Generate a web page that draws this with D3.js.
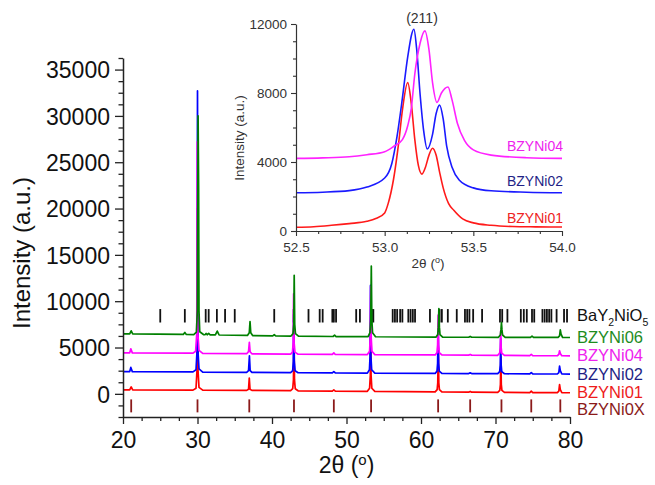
<!DOCTYPE html>
<html>
<head>
<meta charset="utf-8">
<script src="https://cdnjs.cloudflare.com/ajax/libs/d3/7.8.5/d3.min.js"></script>
<style>
  html, body { margin: 0; padding: 0; background: #fff; }
  svg { display: block; font-family: "Liberation Sans", Arial, sans-serif; }
</style>
</head>
<body>
<svg id="chart" width="655" height="485"></svg>
<script>
// ---- Full-range XRD patterns, [2θ, intensity] ----
const bzyni01 = [
  [20, 430], [20.9, 430], [21.1, 750], [21.3, 430],
  [29.4, 400], [29.8, 600], [29.93, 2500], [30.0, 20000], [30.07, 2500], [30.2, 700], [30.7, 400],
  [36.6, 370], [36.85, 500], [36.95, 1700], [37.05, 500], [37.3, 370],
  [42.5, 340], [42.78, 550], [42.88, 1500], [42.95, 6500], [43.02, 1500], [43.12, 550], [43.5, 330],
  [48.1, 290], [48.3, 420], [48.5, 290],
  [52.8, 270], [53.1, 600], [53.2, 2000], [53.25, 8000], [53.3, 2000], [53.4, 600], [53.8, 260],
  [61.9, 210], [62.17, 450], [62.25, 1200], [62.32, 5000], [62.39, 1200], [62.47, 450], [62.8, 200],
  [66.4, 180], [66.6, 260], [66.8, 180],
  [70.3, 160], [70.58, 380], [70.66, 1000], [70.72, 4000], [70.78, 1000], [70.86, 380], [71.2, 150],
  [74.6, 140], [74.8, 280], [75.0, 140],
  [78.3, 130], [78.5, 300], [78.6, 1000], [78.7, 450], [78.9, 130],
  [80, 120]
];
const bzyni02 = [
  [20, 2400], [20.9, 2400], [21.05, 2850], [21.25, 2400],
  [29.4, 2370], [29.8, 2600], [29.93, 4500], [30.0, 32700], [30.07, 4500], [30.2, 2700], [30.7, 2350],
  [36.6, 2320], [36.85, 2500], [36.97, 4100], [37.07, 2500], [37.3, 2310],
  [42.5, 2290], [42.78, 2500], [42.86, 3500], [42.92, 8600], [42.99, 3500], [43.1, 2500], [43.5, 2280],
  [48.1, 2260], [48.3, 2400], [48.5, 2250],
  [52.8, 2240], [53.08, 2600], [53.16, 4000], [53.22, 11700], [53.28, 4000], [53.38, 2600], [53.8, 2230],
  [61.9, 2200], [62.15, 2450], [62.23, 3300], [62.3, 7000], [62.37, 3300], [62.45, 2450], [62.8, 2200],
  [66.4, 2190], [66.6, 2260], [66.8, 2190],
  [70.3, 2180], [70.56, 2400], [70.64, 3100], [70.7, 6000], [70.76, 3100], [70.84, 2400], [71.2, 2170],
  [74.6, 2150], [74.8, 2300], [75.0, 2150],
  [78.3, 2140], [78.5, 2300], [78.6, 3000], [78.7, 2500], [78.9, 2140],
  [80, 2130]
];
const bzyni04 = [
  [20, 4420], [20.9, 4420], [21.05, 4860], [21.25, 4420],
  [29.4, 4390], [29.75, 4600], [29.9, 6500], [29.97, 27200], [30.05, 6500], [30.2, 4700], [30.7, 4370],
  [36.6, 4330], [36.85, 4550], [36.96, 5550], [37.06, 4550], [37.3, 4320],
  [42.5, 4290], [42.75, 4500], [42.84, 5500], [42.9, 10800], [42.97, 5500], [43.08, 4500], [43.5, 4280],
  [48.1, 4260], [48.3, 4420], [48.5, 4250],
  [52.8, 4240], [53.1, 4600], [53.18, 6000], [53.25, 11600], [53.32, 6000], [53.42, 4600], [53.8, 4230],
  [61.9, 4200], [62.15, 4450], [62.23, 5300], [62.3, 8500], [62.37, 5300], [62.45, 4450], [62.8, 4200],
  [66.4, 4180], [66.6, 4250], [66.8, 4180],
  [70.3, 4160], [70.56, 4400], [70.64, 5000], [70.7, 6800], [70.76, 5000], [70.84, 4400], [71.2, 4150],
  [74.6, 4130], [74.8, 4260], [75.0, 4130],
  [78.3, 4110], [78.5, 4250], [78.6, 4650], [78.7, 4350], [78.9, 4110],
  [80, 4100]
];
const bzyni06 = [
  [20, 6480], [20.9, 6480], [21.1, 6800], [21.3, 6470],
  [28.1, 6420], [28.3, 6620], [28.5, 6410],
  [29.5, 6400], [29.85, 6650], [29.98, 9000], [30.08, 30000], [30.15, 22300], [30.2, 9000], [30.3, 6700], [30.8, 6400],
  [31.0, 6380], [31.15, 6520], [31.3, 6380], [31.5, 6520], [31.7, 6370],
  [32.4, 6360], [32.65, 6780], [32.9, 6350],
  [36.7, 6300], [36.95, 6600], [37.05, 7800], [37.15, 6600], [37.4, 6290],
  [40.1, 6260], [40.3, 6380], [40.5, 6250],
  [42.55, 6240], [42.82, 6500], [42.92, 7500], [42.98, 12800], [43.05, 7500], [43.15, 6500], [43.55, 6230],
  [48.2, 6190], [48.4, 6330], [48.6, 6185],
  [52.9, 6170], [53.15, 6600], [53.25, 8000], [53.33, 13800], [53.4, 8000], [53.5, 6600], [53.9, 6160],
  [62.0, 6120], [62.25, 6400], [62.33, 7200], [62.4, 9200], [62.47, 7200], [62.55, 6400], [62.9, 6120],
  [66.4, 6110], [66.6, 6200], [66.8, 6110],
  [70.4, 6100], [70.65, 6350], [70.73, 6900], [70.8, 7700], [70.87, 6900], [70.95, 6350], [71.3, 6100],
  [74.7, 6090], [74.9, 6230], [75.1, 6090],
  [78.4, 6090], [78.6, 6250], [78.7, 6900], [78.8, 6450], [79.0, 6085],
  [80, 6080]
];

// ---- Reference reflection positions (2θ) ----
const refBaY2NiO5 = [25.0, 28.3, 31.1, 31.5, 32.6, 33.7, 35.0, 40.3, 42.9, 44.9, 46.4, 46.8,
  48.1, 48.3, 48.6, 51.3, 51.8, 53.4, 53.6, 56.2, 56.5, 56.8, 57.2, 57.5, 58.3, 58.6, 58.9, 59.2,
  61.2, 62.5, 62.8, 63.6, 64.8, 65.9, 66.2, 66.5, 67.0, 68.2, 70.6, 70.9, 71.6, 73.4, 73.8, 74.2,
  74.9, 75.2, 76.3, 76.6, 76.9, 77.2, 77.5, 78.2, 79.2, 79.6];
const refBZYNi0X = [21.1, 30.0, 36.95, 42.95, 48.3, 53.3, 62.3, 66.6, 70.8, 74.8, 78.7];
const refBarSpan = { bay: [7700, 9150], bzy: [-600, -2000] };

// ---- (211) reflection detail, [2θ, intensity] ----
const zoom01 = [
  [52.5, 220], [52.6, 250], [52.7, 330], [52.8, 430], [52.9, 560], [52.95, 720], [53.0, 1050],
  [53.02, 1600], [53.05, 3000], [53.08, 5200], [53.1, 7000], [53.13, 8600], [53.15, 7400],
  [53.17, 5300], [53.19, 3800], [53.21, 3300], [53.23, 3700], [53.25, 4400], [53.27, 4800],
  [53.29, 4400], [53.31, 3400], [53.33, 2500], [53.36, 1600], [53.39, 1200], [53.44, 700],
  [53.5, 470], [53.6, 330], [53.72, 260], [53.85, 240], [54.0, 230]
];
const zoom02 = [
  [52.5, 2220], [52.65, 2250], [52.8, 2340], [52.9, 2550], [53.0, 3070], [53.04, 3900],
  [53.07, 5500], [53.1, 7700], [53.13, 10100], [53.165, 11700], [53.18, 10600], [53.2, 7900],
  [53.22, 5800], [53.24, 4750], [53.27, 5600], [53.29, 6800], [53.31, 7300], [53.33, 6500],
  [53.35, 4900], [53.38, 3700], [53.42, 2960], [53.5, 2500], [53.6, 2330], [53.8, 2250], [54.0, 2220]
];
const zoom04 = [
  [52.5, 4210], [52.65, 4240], [52.8, 4300], [52.9, 4420], [53.0, 4600], [53.05, 4900],
  [53.1, 5300], [53.13, 6100], [53.15, 7100], [53.17, 9100], [53.2, 10900], [53.227, 11600],
  [53.25, 10500], [53.27, 8600], [53.295, 7450], [53.32, 8000], [53.357, 8350], [53.38, 7600],
  [53.41, 6250], [53.45, 5250], [53.5, 4700], [53.6, 4400], [53.8, 4250], [54.0, 4210]
];

// ---- Axis ticks ----
const mainXTicks = [20, 30, 40, 50, 60, 70, 80];
const mainYTicks = [0, 5000, 10000, 15000, 20000, 25000, 30000, 35000];
const insetXTicks = [52.5, 53.0, 53.5, 54.0];
const insetYTicks = [0, 4000, 8000, 12000];

// ---- Series styling ----
const seriesMain = [
  { name: "BZYNi01", data: bzyni01, color: "#ff0000", label: "#ee1c1c" },
  { name: "BZYNi02", data: bzyni02, color: "#0000ff", label: "#1f1f86" },
  { name: "BZYNi04", data: bzyni04, color: "#ff00ff", label: "#ee22ee" },
  { name: "BZYNi06", data: bzyni06, color: "#008000", label: "#1e8c1e" }
];
const seriesInset = [
  { name: "BZYNi01", data: zoom01, color: "#ff1a1a", label: "#ee2222", y: 222.7 },
  { name: "BZYNi02", data: zoom02, color: "#1a1aff", label: "#1f1f86", y: 186 },
  { name: "BZYNi04", data: zoom04, color: "#ff22ff", label: "#ee22ee", y: 150.7 }
];

const svg = d3.select("#chart");
const AX = "#222";

// ===== Main panel =====
const M = { left: 123, right: 570, top: 58, bottom: 417 };
const x = d3.scaleLinear().domain([20, 80]).range([M.left, M.right]);
const y = d3.scaleLinear().domain([-2500, 36250]).range([M.bottom, M.top]);

const line = d3.line().x(d => x(d[0])).y(d => y(d[1]));

// reference reflection bars
svg.append("g").selectAll("line").data(refBaY2NiO5).join("line")
  .attr("x1", d => x(d)).attr("x2", d => x(d))
  .attr("y1", y(refBarSpan.bay[0])).attr("y2", y(refBarSpan.bay[1]))
  .attr("stroke", "#111").attr("stroke-width", 1.8);
svg.append("g").selectAll("line").data(refBZYNi0X).join("line")
  .attr("x1", d => x(d)).attr("x2", d => x(d))
  .attr("y1", y(refBarSpan.bzy[0])).attr("y2", y(refBarSpan.bzy[1]))
  .attr("stroke", "#8b1a1a").attr("stroke-width", 1.8);

// patterns
svg.append("g").selectAll("path").data(seriesMain).join("path")
  .attr("d", d => line(d.data))
  .attr("fill", "none").attr("stroke", d => d.color)
  .attr("stroke-width", 1.7).attr("stroke-linejoin", "round");

// axes
const minorX = d3.range(20, 80.01, 2.5).filter(v => Math.abs(v % 10) > 1e-6);
const minorY = d3.range(-2500, 36250.1, 1250).filter(v => Math.abs(v % 5000) > 1e-6);

const gx = svg.append("g").attr("transform", `translate(0,${M.bottom})`);
gx.call(d3.axisBottom(x).tickValues(mainXTicks).tickSize(7).tickSizeOuter(0).tickFormat(d3.format("d")));
gx.append("g").call(d3.axisBottom(x).tickValues(minorX).tickSize(4).tickFormat(""));
const gy = svg.append("g").attr("transform", `translate(${M.left},0)`);
gy.call(d3.axisLeft(y).tickValues(mainYTicks).tickSize(8).tickSizeOuter(0).tickFormat(d3.format("d")));
gy.append("g").call(d3.axisLeft(y).tickValues(minorY).tickSize(4.5).tickFormat(""));

[gx, gy].forEach(g => {
  g.selectAll(".domain").attr("stroke", AX).attr("stroke-width", 1.5);
  g.selectAll(".tick line").attr("stroke", AX).attr("stroke-width", 1.3);
  g.selectAll("g > g > .domain").remove();
});
gx.selectAll(".tick text").attr("font-size", 23).attr("fill", "#111")
  .attr("font-family", "Liberation Sans, Arial, sans-serif").attr("dy", null).attr("y", 31);
gy.selectAll(".tick text").attr("font-size", 23).attr("fill", "#111")
  .attr("font-family", "Liberation Sans, Arial, sans-serif").attr("dy", "0.36em").attr("x", -13);

// axis titles
const xt = svg.append("text").attr("x", (M.left + M.right) / 2).attr("y", 473)
  .attr("text-anchor", "middle").attr("font-size", 23).attr("fill", "#111");
xt.append("tspan").text("2θ (");
xt.append("tspan").attr("font-size", 15).attr("dy", -8).text("o");
xt.append("tspan").attr("dy", 8).text(")");

svg.append("text").attr("transform", "translate(30,253) rotate(-90)")
  .attr("text-anchor", "middle").attr("font-size", 24).attr("fill", "#111")
  .text("Intensity (a.u.)");

// series labels
const lx = 577;
const bay = svg.append("text").attr("x", lx).attr("y", 321).attr("font-size", 16.5).attr("fill", "#111");
bay.append("tspan").text("BaY");
bay.append("tspan").attr("font-size", 10.5).attr("dy", 5).text("2");
bay.append("tspan").attr("dy", -5).text("NiO");
bay.append("tspan").attr("font-size", 10.5).attr("dy", 5).text("5");
const mainLabels = [
  { t: "BZYNi06", y: 343, c: seriesMain[3].label },
  { t: "BZYNi04", y: 361, c: seriesMain[2].label },
  { t: "BZYNi02", y: 379.5, c: seriesMain[1].label },
  { t: "BZYNi01", y: 398, c: seriesMain[0].label },
  { t: "BZYNi0X", y: 415, c: "#8b1a1a" }
];
svg.append("g").selectAll("text").data(mainLabels).join("text")
  .attr("x", lx).attr("y", d => d.y).attr("font-size", 16.5).attr("fill", d => d.c).text(d => d.t);

// ===== Inset panel: (211) reflection =====
const I = { left: 296, right: 562, top: 24, bottom: 231 };
const xi = d3.scaleLinear().domain([52.5, 54.0]).range([I.left, I.right]);
const yi = d3.scaleLinear().domain([0, 12000]).range([I.bottom, I.top]);
const linei = d3.line().x(d => xi(d[0])).y(d => yi(d[1])).curve(d3.curveMonotoneX);

svg.append("g").selectAll("path").data(seriesInset).join("path")
  .attr("d", d => linei(d.data))
  .attr("fill", "none").attr("stroke", d => d.color)
  .attr("stroke-width", 1.6).attr("stroke-linejoin", "round");

const minorXi = d3.range(52.5, 54.001, 0.125).filter(v => !insetXTicks.some(t => Math.abs(t - v) < 1e-6));
const minorYi = d3.range(0, 12000.1, 1000).filter(v => v % 4000 !== 0);

const gxi = svg.append("g").attr("transform", `translate(0,${I.bottom})`);
gxi.call(d3.axisBottom(xi).tickValues(insetXTicks).tickSize(5).tickSizeOuter(0).tickFormat(d3.format(".1f")));
gxi.append("g").call(d3.axisBottom(xi).tickValues(minorXi).tickSize(3).tickFormat(""));
const gyi = svg.append("g").attr("transform", `translate(${I.left},0)`);
gyi.call(d3.axisLeft(yi).tickValues(insetYTicks).tickSize(5).tickSizeOuter(0).tickFormat(d3.format("d")));
gyi.append("g").call(d3.axisLeft(yi).tickValues(minorYi).tickSize(3).tickFormat(""));

[gxi, gyi].forEach(g => {
  g.selectAll(".domain").attr("stroke", "#333").attr("stroke-width", 1.2);
  g.selectAll(".tick line").attr("stroke", "#333").attr("stroke-width", 1.1);
  g.selectAll("g > g > .domain").remove();
});
gxi.selectAll(".tick text").attr("font-size", 13.5).attr("fill", "#333")
  .attr("font-family", "Liberation Sans, Arial, sans-serif").attr("dy", null).attr("y", 21);
gyi.selectAll(".tick text").attr("font-size", 13.5).attr("fill", "#333")
  .attr("font-family", "Liberation Sans, Arial, sans-serif").attr("dy", "0.36em").attr("x", -9);

const xti = svg.append("text").attr("x", 428).attr("y", 268)
  .attr("text-anchor", "middle").attr("font-size", 13.5).attr("fill", "#333");
xti.append("tspan").text("2θ (");
xti.append("tspan").attr("font-size", 9).attr("dy", -5).text("o");
xti.append("tspan").attr("dy", 5).text(")");

svg.append("text").attr("transform", "translate(244,138) rotate(-90)")
  .attr("text-anchor", "middle").attr("font-size", 13.5).attr("fill", "#333")
  .text("Intensity (a.u.)");

svg.append("text").attr("x", 422).attr("y", 23).attr("text-anchor", "middle")
  .attr("font-size", 14).attr("fill", "#333").text("(211)");

svg.append("g").selectAll("text").data(seriesInset).join("text")
  .attr("x", 563).attr("y", d => d.y).attr("text-anchor", "end")
  .attr("font-size", 14).attr("fill", d => d.label).text(d => d.name);
</script>
</body>
</html>
